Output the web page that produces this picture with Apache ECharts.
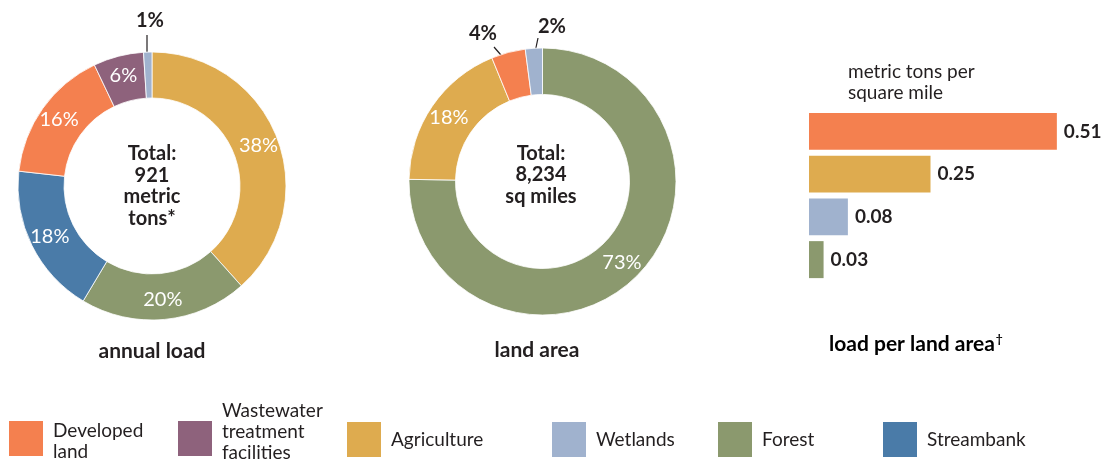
<!DOCTYPE html>
<html>
<head>
<meta charset="utf-8">
<script src="https://cdn.jsdelivr.net/npm/echarts@6/dist/echarts.min.js"></script>
<style>
html,body{margin:0;padding:0;background:#fff;}
#chart{width:1111px;height:461px;}
</style>
</head>
<body>
<div id="chart"></div>
<script>
// ---- data ----
const categories = ['Developed land', 'Wastewater treatment facilities', 'Agriculture', 'Wetlands', 'Forest', 'Streambank'];
const legendLabels = ['Developed\nland', 'Wastewater\ntreatment\nfacilities', 'Agriculture', 'Wetlands', 'Forest', 'Streambank'];
const colors = ['#F4804F', '#8E627C', '#DEAB4F', '#A0B2CE', '#8B996E', '#4A7BA8'];

// annual load (% of total), clockwise from 12 o'clock
const loadCats = ['Agriculture', 'Forest', 'Streambank', 'Developed land', 'Wastewater treatment facilities', 'Wetlands'];
const loadPct = [38, 20, 18, 16, 6, 1];
const loadTotal = 'Total:\n921\nmetric\ntons*';

// land area (% of total), clockwise from 12 o'clock
const areaCats = ['Forest', 'Agriculture', 'Developed land', 'Wetlands'];
const areaPct = [73, 18, 4, 2];
const areaTotal = 'Total:\n8,234\nsq miles';

// load per land area (metric tons per square mile)
const rateCats = ['Developed land', 'Agriculture', 'Wetlands', 'Forest'];
const rateVals = [0.51, 0.25, 0.08, 0.03];

// ---- helpers ----
const FONT = 'Lato, "Source Sans Pro", sans-serif';
const TXT = '#231F20';
const colorOf = n => colors[categories.indexOf(n)];
const small = 5; // slices below this % get an outside label

function pieData(cats, vals) {
  return cats.map((c, i) => {
    const d = { name: c, value: vals[i], itemStyle: { color: colorOf(c) } };
    if (vals[i] < small) {
      d.label = { position: 'outside', color: TXT, fontWeight: 'bold' };
      d.labelLine = { show: true, length: 12, length2: 0, lineStyle: { color: TXT, width: 1.2 } };
    }
    return d;
  });
}
// outside label placements (annotation layout)
const outsideLoad = { 'Wetlands': { x: 150, y: 31, line: [[147, 52], [147, 35]] } };
const outsideArea = {
  'Developed land': { x: 483, y: 44, line: [[507, 62], [494, 47]] },
  'Wetlands': { x: 552, y: 37, line: [[534, 57], [538, 38]] }
};
function layoutFor(cats, vals, table) {
  return function (params) {
    const c = cats[params.dataIndex];
    const t = table[c];
    if (!t || vals[params.dataIndex] >= small) return {};
    return { x: t.x, y: t.y, align: 'center', verticalAlign: 'bottom', labelLinePoints: [t.line[0], t.line[1], t.line[1]] };
  };
}

function pieSeries(cats, vals, center, radius, table) {
  return {
    type: 'pie',
    center: center,
    radius: radius,
    startAngle: 90,
    clockwise: true,
    avoidLabelOverlap: false,
    silent: true,
    emphasis: { disabled: true },
    itemStyle: { borderColor: '#fff', borderWidth: 0.8 },
    label: {
      show: true, position: 'inside', color: '#fff', fontSize: 20, fontFamily: FONT,
      formatter: p => p.value + '%'
    },
    labelLine: { show: false },
    labelLayout: layoutFor(cats, vals, table),
    data: pieData(cats, vals)
  };
}

// legend layout: one legend component per entry
const legendLeft = [7, 176, 345, 550, 716, 881];
const legendTop = [415, 400, 420, 420, 420, 420];
// spacer lines (px) above / below the legend text to match the reference's vertical offsets
const legendSpace = [[5, 0], [0, 14], [0, 0], [0, 0], [0, 0], [0, 0]];
const legends = categories.map((c, i) => {
  const sp = legendSpace[i];
  return {
    data: [c],
    selectedMode: false,
    left: legendLeft[i],
    top: legendTop[i],
    padding: 0,
    itemWidth: 36,
    itemHeight: 37,
    icon: 'rect',
    formatter: n => {
      const lines = legendLabels[categories.indexOf(n)].split('\n').map(s => '{t|' + s + '}');
      if (sp[0]) lines.unshift('{a| }');
      if (sp[1]) lines.push('{b| }');
      return lines.join('\n');
    },
    textStyle: {
      color: TXT, fontSize: 19, lineHeight: 21, fontFamily: FONT, padding: [0, 0, 0, 4],
      rich: {
        t: { color: TXT, fontSize: 19, lineHeight: 21, fontFamily: FONT },
        a: { fontSize: 4, lineHeight: sp[0] || 1 },
        b: { fontSize: 4, lineHeight: sp[1] || 1 }
      }
    }
  };
});

const chart = echarts.init(document.getElementById('chart'), null, { renderer: 'canvas' });
const option = {
  animation: false,
  backgroundColor: '#fff',
  textStyle: { fontFamily: FONT },
  legend: legends,
  grid: { left: 809, right: 10.4, top: 110, height: 171 },
  xAxis: { type: 'value', min: 0, max: 0.6, show: false },
  yAxis: { type: 'category', data: rateCats, inverse: true, show: false },
  series: [
    pieSeries(loadCats, loadPct, [152, 186], [88, 134], outsideLoad),
    pieSeries(areaCats, areaPct, [542.5, 181.5], [87, 133.5], outsideArea),
    {
      type: 'bar',
      silent: true,
      barCategoryGap: '13.5%',
      data: rateVals.map((v, i) => ({ value: v, itemStyle: { color: colorOf(rateCats[i]) } })),
      label: {
        show: true, position: 'right', distance: 7, color: TXT, fontSize: 19, fontWeight: 'bold', fontFamily: FONT,
        formatter: p => p.value.toFixed(2)
      }
    }
  ],
  graphic: [
    { type: 'text', x: 152, y: 186, silent: true, style: { text: loadTotal, align: 'center', verticalAlign: 'middle', fill: TXT, font: 'bold 20px ' + FONT, lineHeight: 21.5 } },
    { type: 'text', x: 541, y: 175, silent: true, style: { text: areaTotal, align: 'center', verticalAlign: 'middle', fill: TXT, font: 'bold 20px ' + FONT, lineHeight: 21.5 } },
    { type: 'text', x: 152, y: 351, silent: true, style: { text: 'annual load', align: 'center', verticalAlign: 'middle', fill: TXT, font: 'bold 21px ' + FONT } },
    { type: 'text', x: 537, y: 350, silent: true, style: { text: 'land area', align: 'center', verticalAlign: 'middle', fill: TXT, font: 'bold 21px ' + FONT } },
    { type: 'text', x: 848, y: 82, silent: true, style: { text: 'metric tons per\nsquare mile', align: 'left', verticalAlign: 'middle', fill: TXT, font: '19px ' + FONT, lineHeight: 21 } },
    { type: 'text', x: 829, y: 344, silent: true, style: {
        text: '{a|load per land area}{s|†}', align: 'left', verticalAlign: 'middle',
        rich: { a: { fontSize: 21, fontWeight: 'bold', fontFamily: FONT, color: TXT },
                s: { fontSize: 12, fontWeight: 'bold', fontFamily: FONT, color: TXT, verticalAlign: 'top', padding: [0, 0, 10, 1] } } } }
  ]
};
chart.setOption(option);
</script>
</body>
</html>
